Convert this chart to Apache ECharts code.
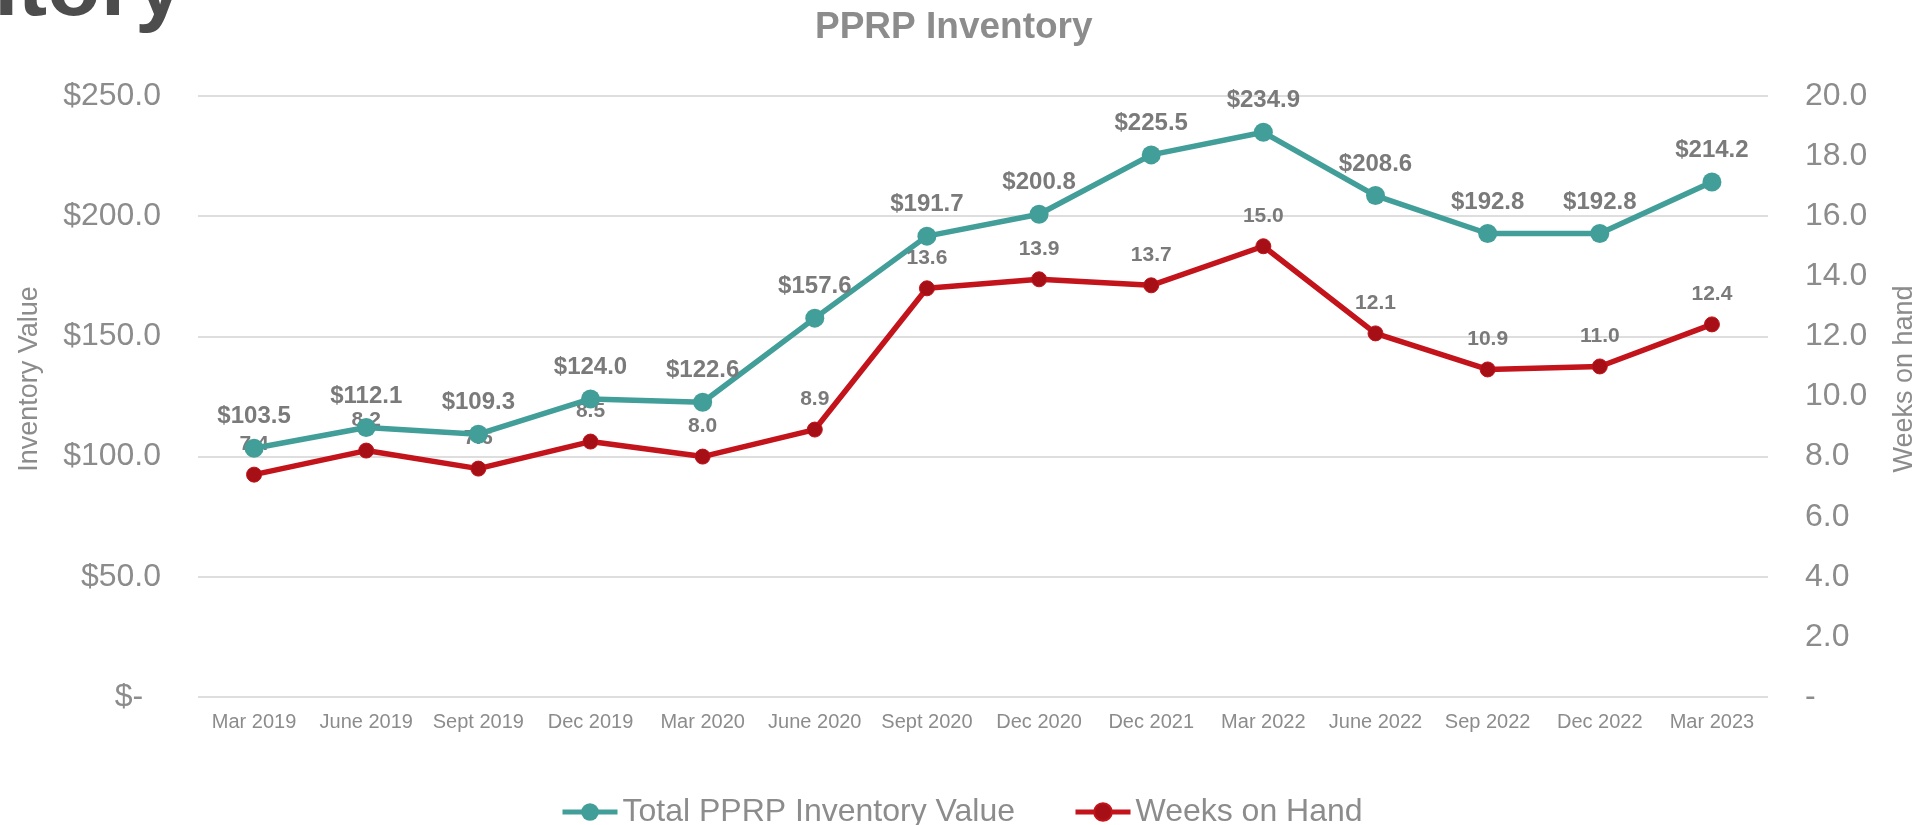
<!DOCTYPE html>
<html>
<head>
<meta charset="utf-8">
<script src="https://cdn.jsdelivr.net/npm/echarts@6/dist/echarts.min.js"></script>
<style>
html,body{margin:0;padding:0;background:#fff;}
#c{width:1929px;height:825px;}
</style>
</head>
<body>
<div id="c"></div>
<script>
const categories = ['Mar 2019','June 2019','Sept 2019','Dec 2019','Mar 2020','June 2020','Sept 2020','Dec 2020','Dec 2021','Mar 2022','June 2022','Sep 2022','Dec 2022','Mar 2023'];
const inventoryValue = [103.5,112.1,109.3,124.0,122.6,157.6,191.7,200.8,225.5,234.9,208.6,192.8,192.8,214.2];
const weeksOnHand = [7.4,8.2,7.6,8.5,8.0,8.9,13.6,13.9,13.7,15.0,12.1,10.9,11.0,12.4];
const seriesNames = ['Total PPRP Inventory Value','Weeks on Hand'];
const chartTitle = 'PPRP Inventory';
const slideTitle = 'Inventory';
const leftAxisName = 'Inventory Value';
const rightAxisName = 'Weeks on hand';

const FONT = '"Liberation Sans", Arial, sans-serif';
const GRAY = '#8c8c8c';
const LABEL_GRAY = '#7a7a7a';
const TEAL = '#429E99';
const RED = '#C3131B';
const RED_DARK = '#A50F15';

const chart = echarts.init(document.getElementById('c'));
chart.setOption({
  backgroundColor: '#ffffff',
  animation: false,
  title: {
    text: chartTitle,
    left: 815,
    top: 9,
    padding: 0,
    textStyle: {fontFamily: FONT, fontSize: 37, fontWeight: 'bold', color: GRAY}
  },
  graphic: [{
    type: 'text',
    x: 184, y: -9,
    style: {text: slideTitle, textAlign: 'right', textVerticalAlign: 'middle',
      font: 'bold 88px "Liberation Sans", Arial, sans-serif', fill: '#4d4d4d'}
  }],
  legend: {
    data: seriesNames,
    left: 560,
    top: 796,
    padding: 0,
    itemWidth: 55,
    itemHeight: 22,
    itemGap: 58,
    lineStyle: {width: 5},
    textStyle: {fontFamily: FONT, fontSize: 32, color: GRAY}
  },
  grid: {left: 198, right: 161, top: 96, bottom: 128, containLabel: false},
  xAxis: {
    type: 'category',
    data: categories,
    boundaryGap: true,
    axisLine: {show: false},
    axisTick: {show: false},
    axisLabel: {fontFamily: FONT, fontSize: 20, color: GRAY, margin: 15, interval: 0}
  },
  yAxis: [{
    type: 'value', min: 0, max: 250, interval: 50,
    name: leftAxisName, nameLocation: 'middle', nameRotate: 90, nameGap: 155,
    nameTextStyle: {fontFamily: FONT, fontSize: 27, color: GRAY, padding: [0,0,0,35]},
    axisLine: {show: false}, axisTick: {show: false},
    axisLabel: {fontFamily: FONT, fontSize: 32, color: GRAY, margin: 37,
      formatter: v => v === 0 ? '$-  ' : '$' + v.toFixed(1)},
    splitLine: {show: true, lineStyle: {color: '#dedede', width: 2}}
  }, {
    type: 'value', min: 0, max: 20, interval: 2, position: 'right',
    name: rightAxisName, nameLocation: 'middle', nameRotate: 90, nameGap: 123,
    nameTextStyle: {fontFamily: FONT, fontSize: 27, color: GRAY, padding: [0,0,0,35]},
    axisLine: {show: false}, axisTick: {show: false},
    axisLabel: {fontFamily: FONT, fontSize: 32, color: GRAY, margin: 37,
      formatter: v => v === 0 ? '-' : v.toFixed(1)},
    splitLine: {show: false}
  }],
  series: [{
    name: seriesNames[0],
    type: 'line',
    yAxisIndex: 0,
    data: inventoryValue,
    symbol: 'circle',
    symbolSize: 19,
    lineStyle: {color: TEAL, width: 5.5},
    itemStyle: {color: TEAL},
    label: {show: true, position: 'top', distance: 10, fontFamily: FONT, fontSize: 24,
      fontWeight: 'bold', color: LABEL_GRAY, formatter: p => '$' + p.value.toFixed(1)},
    z: 3
  }, {
    name: seriesNames[1],
    type: 'line',
    yAxisIndex: 1,
    data: weeksOnHand,
    symbol: 'circle',
    symbolSize: 15,
    lineStyle: {color: RED, width: 5.5},
    itemStyle: {color: RED_DARK, borderColor: RED, borderWidth: 1},
    label: {show: true, position: 'top', distance: 12, fontFamily: FONT, fontSize: 21,
      fontWeight: 'bold', color: LABEL_GRAY, formatter: p => p.value.toFixed(1)},
    z: 2
  }]
});
</script>
</body>
</html>
